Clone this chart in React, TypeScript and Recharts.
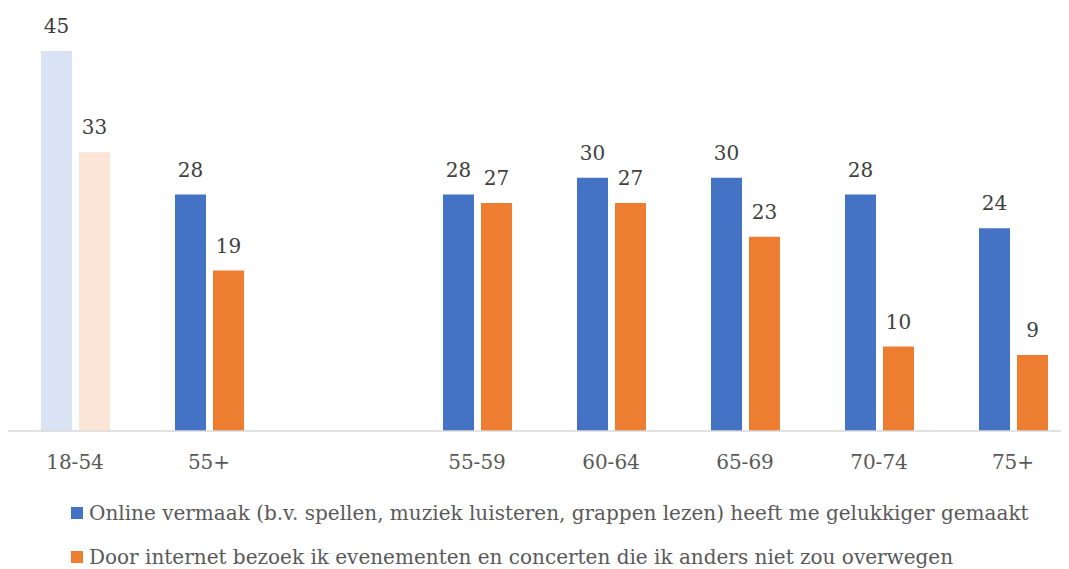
import { Bar, BarChart, Cell, LabelList, Legend, XAxis, YAxis } from "recharts";

const categories = ["18-54", "55+", "", "55-59", "60-64", "65-69", "70-74", "75+"];
const onlineValues = [45, 28, null, 28, 30, 30, 28, 24];
const eventValues = [33, 19, null, 27, 27, 23, 10, 9];
const seriesNames = [
  "Online vermaak (b.v. spellen, muziek luisteren, grappen lezen) heeft me gelukkiger gemaakt",
  "Door internet bezoek ik evenementen en concerten die ik anders niet zou overwegen",
];

const BLUE = "#4472c4";
const ORANGE = "#ed7d31";
const BLUE_LIGHT = "#dae3f3";
const ORANGE_LIGHT = "#fbe5d6";
const FONT = "'DejaVu Serif', serif";

const data = categories.map((cat, i) => ({
  cat,
  online: onlineValues[i],
  events: eventValues[i],
}));

const LegendBox = () => (
  <div style={{ paddingLeft: 63, fontFamily: FONT, fontSize: 20, color: "#595959" }}>
    {[BLUE, ORANGE].map((c, i) => (
      <div key={i} style={{ height: 44, display: "flex", alignItems: "center" }}>
        <span style={{ width: 12, height: 12, background: c, marginRight: 6, display: "inline-block" }} />
        <span>{seriesNames[i]}</span>
      </div>
    ))}
  </div>
);

export default function App() {
  return (
    <div style={{ width: 1061, height: 561, overflow: "hidden" }}>
      <BarChart
        width={1072}
        height={580}
        data={data}
        margin={{ top: 43, right: 0, left: 0, bottom: 9 }}
        barSize={31}
        barGap={7}
      >
        <XAxis
          dataKey="cat"
          height={60}
          tickLine={false}
          tickSize={0}
          tickMargin={24}
          axisLine={{ stroke: "#d9d9d9", strokeWidth: 1.5 }}
          tick={{ fill: "#595959", fontSize: 20, fontFamily: FONT }}
          interval={0}
        />
        <YAxis hide domain={[0, 45]} />
        <Legend verticalAlign="bottom" height={88} content={() => <LegendBox />} />
        <Bar dataKey="online" fill={BLUE} isAnimationActive={false}>
          {data.map((_, i) => (
            <Cell key={i} fill={i === 0 ? BLUE_LIGHT : BLUE} />
          ))}
          <LabelList
            dataKey="online"
            position="top"
            offset={18}
            formatter={(v: any) => (v == null ? "" : v)}
            style={{ fill: "#404040", fontSize: 20, fontFamily: FONT }}
          />
        </Bar>
        <Bar dataKey="events" fill={ORANGE} isAnimationActive={false}>
          {data.map((_, i) => (
            <Cell key={i} fill={i === 0 ? ORANGE_LIGHT : ORANGE} />
          ))}
          <LabelList
            dataKey="events"
            position="top"
            offset={18}
            formatter={(v: any) => (v == null ? "" : v)}
            style={{ fill: "#404040", fontSize: 20, fontFamily: FONT }}
          />
        </Bar>
      </BarChart>
    </div>
  );
}
